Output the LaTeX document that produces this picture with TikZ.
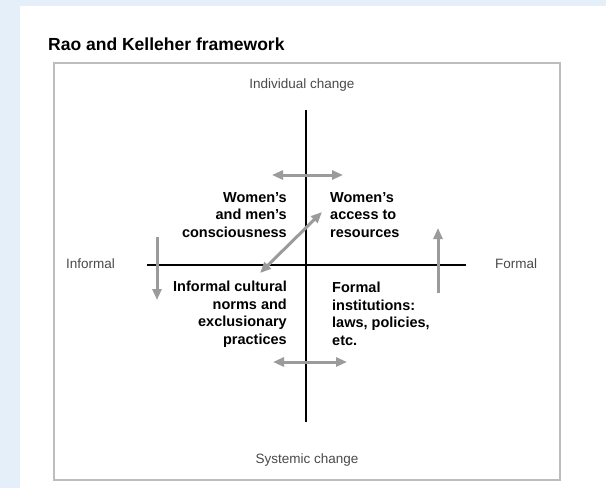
\documentclass[tikz,border=0pt]{standalone}
\usepackage{fontspec}
\setmainfont{Liberation Sans}
\usetikzlibrary{arrows.meta}
\definecolor{pageblue}{HTML}{E4EFF9}
\definecolor{arrowgray}{HTML}{9B9B9B}
\definecolor{framegray}{HTML}{BDBDBD}
\definecolor{labelgray}{HTML}{4A4A4A}

\begin{document}
\begin{tikzpicture}[
x=1pt, y=-1pt,
axis/.style={line width=2.6pt, black},
shiftarrow/.style={line width=3pt, arrowgray, -{Triangle[length=11pt,width=9pt]}},
twoway/.style={line width=3pt, arrowgray, {Triangle[length=11pt,width=9pt]}-{Triangle[length=11pt,width=9pt]}},
pole/.style={font=\fontsize{13.5}{16}\selectfont, text=labelgray, inner sep=0pt},
quad/.style={font=\fontsize{14.5}{17.5}\selectfont\bfseries, inner sep=0pt}
]
\useasboundingbox (0,0) rectangle (606,488);

% page and frame
\fill[pageblue] (0,0) rectangle (606,488);
\fill[white] (20,6) rectangle (606,488);
\draw[framegray, line width=1.3pt] (54,63) rectangle (560,480);

\node[anchor=base west, inner sep=0pt, font=\fontsize{17.5}{20}\selectfont\bfseries] (title) at (48,50) {Rao and Kelleher framework};

% poles
\node[pole, anchor=base] (indiv) at (302,88) {Individual change};
\node[pole, anchor=base] (syst) at (307,463) {Systemic change};
\node[pole, anchor=base west] (infor) at (66,268) {Informal};
\node[pole, anchor=base west] (formal) at (495,268) {Formal};

% axes
\coordinate (top) at (306,110);
\coordinate (bottom) at (306,422);
\coordinate (left) at (147,265);
\coordinate (right) at (466,265);
\draw[axis] (top) -- (bottom);
\draw[axis] (left) -- (right);

% quadrants (base = last line)
\node[quad, anchor=base east, align=right] (consc) at (287,237) {Women’s\\and men’s\\consciousness};
\node[quad, anchor=base west, align=left] (access) at (330,237) {Women’s\\access to\\resources};
\node[quad, anchor=base east, align=right] (norms) at (287,344) {Informal cultural\\norms and\\exclusionary\\practices};
\node[quad, anchor=base west, align=left] (inst) at (332,345) {Formal\\institutions:\\laws, policies,\\etc.};

% shifts
\coordinate (tl) at (272,175);
\coordinate (tr) at (343,175);
\coordinate (bl) at (273,362);
\coordinate (br) at (347,362);
\coordinate (lu) at (157,237);
\coordinate (ld) at (157,300);
\coordinate (ru) at (438,228);
\coordinate (rd) at (438,293);
\coordinate (dl) at (260,273);
\coordinate (dr) at (322,212);
\draw[twoway] (tl) -- (tr);
\draw[twoway] (bl) -- (br);
\draw[shiftarrow] (lu) -- (ld);
\draw[shiftarrow] (rd) -- (ru);
\draw[twoway] (dl) -- (dr);

\end{tikzpicture}
\end{document}
